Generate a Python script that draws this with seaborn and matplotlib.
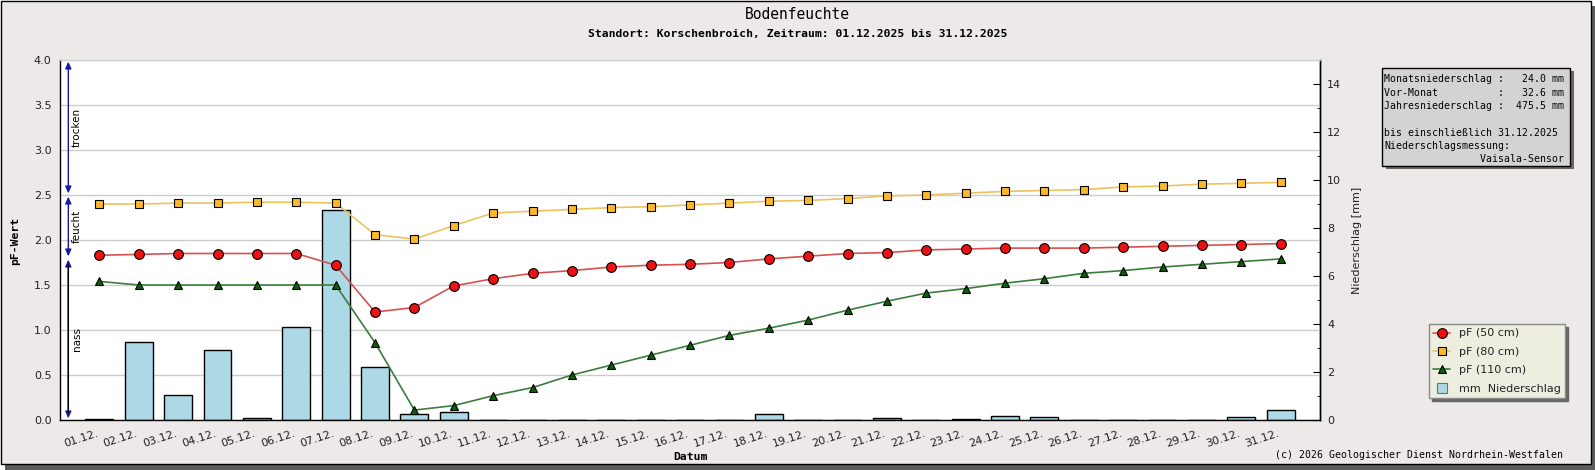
import numpy as np
import pandas as pd
import matplotlib
matplotlib.use("Agg")
import matplotlib.pyplot as plt
import matplotlib.transforms as mtransforms
from matplotlib.patches import Rectangle
from matplotlib.lines import Line2D
from matplotlib.ticker import MultipleLocator, FormatStrFormatter
import seaborn as sns

# ---------------- data ----------------
days = list(range(1, 32))
date_labels = [f"{d:02d}.12." for d in days]

pf_50cm = [1.83, 1.84, 1.85, 1.85, 1.85, 1.85, 1.72, 1.20, 1.25, 1.49,
           1.57, 1.63, 1.66, 1.70, 1.72, 1.73, 1.75, 1.79, 1.82, 1.85,
           1.86, 1.89, 1.90, 1.91, 1.91, 1.91, 1.92, 1.93, 1.94, 1.95, 1.96]
pf_80cm = [2.40, 2.40, 2.41, 2.41, 2.42, 2.42, 2.41, 2.06, 2.01, 2.16,
           2.30, 2.32, 2.34, 2.36, 2.37, 2.39, 2.41, 2.43, 2.44, 2.46,
           2.49, 2.50, 2.52, 2.54, 2.55, 2.56, 2.59, 2.60, 2.62, 2.63, 2.64]
pf_110cm = [1.54, 1.50, 1.50, 1.50, 1.50, 1.50, 1.50, 0.86, 0.11, 0.16,
            0.27, 0.36, 0.50, 0.61, 0.72, 0.83, 0.94, 1.02, 1.11, 1.22,
            1.32, 1.41, 1.46, 1.52, 1.57, 1.63, 1.66, 1.70, 1.73, 1.76, 1.79]
rain_mm = [0.04, 3.24, 1.03, 2.90, 0.08, 3.86, 8.74, 2.19, 0.25, 0.32,
           0.0, 0.0, 0.0, 0.0, 0.0, 0.0, 0.0, 0.24, 0.0, 0.0,
           0.07, 0.0, 0.04, 0.15, 0.11, 0.0, 0.0, 0.0, 0.0, 0.11, 0.40]

zone_names = ["trocken", "feucht", "nass"]
zone_lower = [2.5, 1.8, 0.0]
zone_upper = [4.0, 2.5, 1.8]
zone_line_colors = ["#1818A0", "#1818A0", "black"]

series_labels = ["pF (50 cm)", "pF (80 cm)", "pF (110 cm)", "mm  Niederschlag"]

info_lines = [
    "Monatsniederschlag :   24.0 mm",
    "Vor-Monat          :   32.6 mm",
    "Jahresniederschlag :  475.5 mm",
    "",
    "bis einschließlich 31.12.2025",
    "Niederschlagsmessung:",
    "                Vaisala-Sensor",
]

title_text = "Bodenfeuchte"
subtitle_text = "Standort: Korschenbroich, Zeitraum: 01.12.2025 bis 31.12.2025"
copyright_text = "(c) 2026 Geologischer Dienst Nordrhein-Westfalen"
xlabel_text = "Datum"
ylabel_text = "pF-Wert"
y2label_text = "Niederschlag [mm]"

PF_MAX = 4.0
MM_MAX = 15.0

# ---------------- styling ----------------
W, H, DPI = 1595, 470, 100
BG = "#ECE9E8"
BAR_COLOR = "#ADD8E6"
RED_LINE, RED_FILL = "#D95050", "#EE1111"
ORA_LINE, ORA_FILL = "#EDC35E", "#FBB829"
GRN_LINE, GRN_FILL = "#3C7D3C", "#0B5E0B"
MONO = "DejaVu Sans Mono"

sns.set_style("white")
plt.rcParams["font.family"] = ["DejaVu Sans"]
plt.rcParams["axes.edgecolor"] = "black"
plt.rcParams["text.color"] = "black"
plt.rcParams["xtick.color"] = "black"
plt.rcParams["ytick.color"] = "black"


def fx(x):
    return x / W


def fy(y):
    return 1 - y / H


fig = plt.figure(figsize=(W / DPI, H / DPI), dpi=DPI, facecolor="white")

# outer frame with drop shadow
fig.add_artist(Rectangle((fx(5), 0), 1590 / W, 464 / H, transform=fig.transFigure,
                         facecolor="#5c5c5c", edgecolor="none", zorder=-3))
fig.add_artist(Rectangle((fx(0.5), fy(463.5)), 1590 / W, 463 / H, transform=fig.transFigure,
                         facecolor=BG, edgecolor="black", linewidth=1, zorder=-2))

ax = fig.add_axes([fx(60), fy(420), (1320 - 60) / W, (420 - 60) / H])
ax.set_facecolor("white")

df = pd.DataFrame({"day": days, "pf50": pf_50cm, "pf80": pf_80cm,
                   "pf110": pf_110cm, "rain": rain_mm})
df["rain_on_pf"] = df["rain"] * PF_MAX / MM_MAX

sns.barplot(data=df, x="day", y="rain_on_pf", native_scale=True, width=0.71,
            color=BAR_COLOR, saturation=1, edgecolor="black", linewidth=1,
            errorbar=None, ax=ax, zorder=1)

line_specs = [
    ("pf80", ORA_LINE, ORA_FILL, "s", 5.4, 0.8),
    ("pf50", RED_LINE, RED_FILL, "o", 7.0, 0.8),
    ("pf110", GRN_LINE, GRN_FILL, "^", 6.4, 0.8),
]
for col, lc, fc, mk, ms, mew in line_specs:
    sns.lineplot(data=df, x="day", y=col, color=lc, linewidth=1.2, marker=mk,
                 markersize=ms, markerfacecolor=fc, markeredgecolor="black",
                 markeredgewidth=mew, ax=ax, zorder=3, legend=False)

# axes limits & ticks
ax.set_xlim(0, 32)
ax.set_ylim(0, PF_MAX)
ax.set_xlabel("")
ax.set_ylabel("")
ax.set_xticks(days)
ax.set_xticklabels(date_labels, rotation=18, ha="right", va="top",
                   rotation_mode="anchor", fontsize=8, color="#222222")
ax.tick_params(axis="x", direction="in", length=5, pad=6, width=1)
ax.yaxis.set_major_locator(MultipleLocator(0.5))
ax.yaxis.set_minor_locator(MultipleLocator(0.1))
ax.yaxis.set_major_formatter(FormatStrFormatter("%.1f"))
ax.tick_params(axis="y", which="major", direction="in", length=5, pad=6, labelsize=8,
               labelcolor="#222222")
ax.tick_params(axis="y", which="minor", direction="in", length=3)
ax.grid(axis="y", which="major", color="#CCCCCC", linewidth=1)
ax.grid(axis="x", visible=False)
ax.set_axisbelow(True)
ax.spines["top"].set_color("#CCCCCC")
for s in ("left", "bottom", "right"):
    ax.spines[s].set_color("black")
    ax.spines[s].set_linewidth(1)

offset = mtransforms.ScaledTranslation(-3 / DPI, 0, fig.dpi_scale_trans)
for lab in ax.get_xticklabels():
    lab.set_transform(lab.get_transform() + offset)

sec = ax.secondary_yaxis("right", functions=(lambda p: p * MM_MAX / PF_MAX,
                                             lambda m: m * PF_MAX / MM_MAX))
sec.yaxis.set_major_locator(MultipleLocator(2))
sec.yaxis.set_minor_locator(MultipleLocator(1))
sec.tick_params(which="major", direction="in", length=5, pad=5, labelsize=8,
                labelcolor="#222222")
sec.tick_params(which="minor", direction="in", length=2.5)
sec.spines["right"].set_color("black")
sec.spines["right"].set_linewidth(1)
sec.set_ylabel(y2label_text, fontsize=8, labelpad=8, color="#222222")

# pF class arrows
ztrans = ax.get_yaxis_transform()
for name, lo, hi, lc in zip(zone_names, zone_lower, zone_upper, zone_line_colors):
    ax.annotate("", xy=(0.0066, lo), xytext=(0.0066, hi), xycoords=ztrans, textcoords=ztrans,
                arrowprops=dict(arrowstyle="<|-|>,head_length=0.4,head_width=0.18",
                                color="#1818A0", lw=1, shrinkA=1.2, shrinkB=1.2,
                                mutation_scale=10))
    if lc != "#1818A0":
        ax.annotate("", xy=(0.0066, lo), xytext=(0.0066, hi), xycoords=ztrans, textcoords=ztrans,
                    arrowprops=dict(arrowstyle="-", color=lc, lw=1, shrinkA=5.2, shrinkB=5.2))
    ax.text(0.0135, (lo + hi) / 2, name, transform=ztrans, rotation=90,
            ha="center", va="center", fontsize=7.5)

# legend
handles = [
    Line2D([], [], color=RED_LINE, lw=1.2, marker="o", markersize=7.0,
           markerfacecolor=RED_FILL, markeredgecolor="black", markeredgewidth=0.8),
    Line2D([], [], color=ORA_LINE, lw=1.2, marker="s", markersize=5.4,
           markerfacecolor=ORA_FILL, markeredgecolor="black", markeredgewidth=0.8),
    Line2D([], [], color=GRN_LINE, lw=1.2, marker="^", markersize=6.4,
           markerfacecolor=GRN_FILL, markeredgecolor="black", markeredgewidth=0.8),
    Line2D([], [], linestyle="none", marker="s", markersize=7.5,
           markerfacecolor=BAR_COLOR, markeredgecolor="#707070", markeredgewidth=0.8),
]
leg = fig.legend(handles, series_labels, loc="upper left",
                 bbox_to_anchor=(fx(1429), fy(324)), bbox_transform=fig.transFigure,
                 borderaxespad=0, fontsize=8, frameon=True, fancybox=False,
                 facecolor="#EEEEE0", edgecolor="#8a8a8a", framealpha=1,
                 shadow={"color": "#666666", "alpha": 1},
                 handlelength=1.5, handletextpad=0.8, labelspacing=0.76, borderpad=0.4)
leg.get_frame().set_linewidth(1)
for t in leg.get_texts():
    t.set_color("#222222")

# info box
bl, bt, br, bb = 1382, 68, 1570, 166
fig.add_artist(Rectangle((fx(bl + 3.5), fy(bb + 3.5)), (br - bl) / W, (bb - bt) / H,
                         transform=fig.transFigure, facecolor="#666666",
                         edgecolor="none", zorder=3))
fig.add_artist(Rectangle((fx(bl), fy(bb)), (br - bl) / W, (bb - bt) / H,
                         transform=fig.transFigure, facecolor="#D3D3D3",
                         edgecolor="black", linewidth=1, zorder=4))
for i, line in enumerate(info_lines):
    fig.text(fx(1384.5), fy(79.3 + i * 13.3), line, family=MONO, fontsize=7.1,
             ha="left", va="center", zorder=5)

# titles and labels
fig.text(0.5, fy(14.5), title_text, family=MONO, fontsize=10.5, ha="center", va="center")
fig.text(0.5, fy(34), subtitle_text, family=MONO, fontsize=8.2, fontweight="bold",
         ha="center", va="center")
fig.text(fx(15.3), fy(241), ylabel_text, family=MONO, fontsize=8.2, fontweight="bold",
         rotation=90, ha="center", va="center")
fig.text(fx(690), fy(457), xlabel_text, family=MONO, fontsize=8.2, fontweight="bold",
         ha="center", va="center")
fig.text(fx(1563), fy(455), copyright_text, family=MONO, fontsize=7.1,
         ha="right", va="center")

fig.savefig("out.png", dpi=DPI, facecolor="white")
